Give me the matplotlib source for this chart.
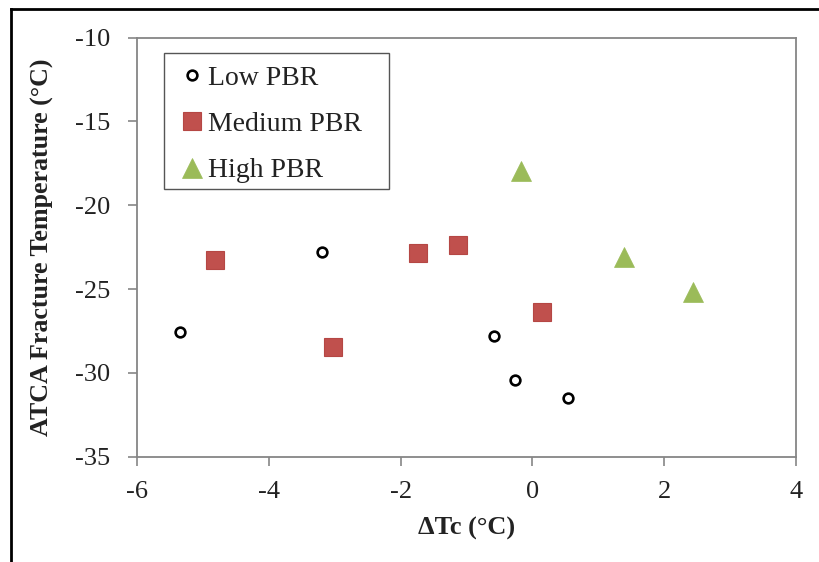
import matplotlib
matplotlib.use("Agg")
import matplotlib.pyplot as plt
from matplotlib.lines import Line2D
from matplotlib.patches import Rectangle

# Data
low_x = [-5.34, -3.19, -0.59, -0.26, 0.54]
low_y = [-27.55, -22.8, -27.8, -30.45, -31.5]
med_x = [-4.82, -3.03, -1.74, -1.13, 0.14]
med_y = [-23.25, -28.45, -22.85, -22.35, -26.35]
high_x = [-0.17, 1.39, 2.44]
high_y = [-17.95, -23.1, -25.2]
series_names = ["Low PBR", "Medium PBR", "High PBR"]
x_ticks = [-6, -4, -2, 0, 2, 4]
y_ticks = [-35, -30, -25, -20, -15, -10]

plt.rcParams['font.family'] = ['Liberation Serif', 'DejaVu Serif']

fig = plt.figure(figsize=(8.2, 5.62), dpi=100)
ax = fig.add_axes([137/820, 1 - 456.7/562, (796 - 137)/820, (456.7 - 37.7)/562])

red = "#C0504D"
green = "#9BBB59"

ax.plot(low_x, low_y, linestyle='none', marker='o', markersize=7, markerfacecolor='white',
        markeredgecolor='black', markeredgewidth=1.9, label=series_names[0], zorder=3)
ax.plot(med_x, med_y, linestyle='none', marker='s', markersize=13, markerfacecolor=red,
        markeredgecolor='#B54744', markeredgewidth=0.8, label=series_names[1], zorder=3)
ax.plot(high_x, high_y, linestyle='none', marker='^', markersize=14, markerfacecolor=green,
        markeredgecolor=green, markeredgewidth=0.5, label=series_names[2], zorder=3)

ax.set_xlim(-6, 4)
ax.set_ylim(-35, -10)
ax.set_xticks(x_ticks)
ax.set_yticks(y_ticks)
ax.set_xticklabels([str(t) for t in x_ticks])
ax.set_yticklabels([str(t) for t in y_ticks])

for s in ax.spines.values():
    s.set_color('#868686')
    s.set_linewidth(1.3)

ax.tick_params(axis='both', direction='out', length=6.5, width=1.2, color='#868686',
               labelsize=19, labelcolor='#222222')
ax.tick_params(axis='y', pad=13)
ax.tick_params(axis='x', pad=11)

ax.set_xlabel("ΔTc (°C)", fontsize=19, fontweight='bold', labelpad=10, color='#222222')
ax.set_ylabel("ATCA Fracture Temperature (°C)", fontsize=18.7, fontweight='bold',
              labelpad=15, color='#222222')

# legend frame drawn separately
ax.add_patch(Rectangle(((164 - 137)/659, (456.7 - 189)/419), (389 - 164)/659, (189 - 52.7)/419,
                       transform=ax.transAxes, facecolor='white', edgecolor='#555555',
                       linewidth=1.0, zorder=4))
leg = ax.legend(loc='upper left', bbox_to_anchor=((164 - 137)/659, 1 - (46 - 37.7)/419),
                prop={'size': 20}, frameon=False,
                handlelength=0.65, handletextpad=0.25, labelspacing=0.75, borderpad=0.7,
                borderaxespad=0, numpoints=1)
leg.set_zorder(5)
for t in leg.get_texts():
    t.set_color('#222222')

# outer frame lines (top and left)
fig.add_artist(Line2D([11/820, 1], [1 - 9/562, 1 - 9/562], color='black', linewidth=2,
                      transform=fig.transFigure))
fig.add_artist(Line2D([11/820, 11/820], [0, 1 - 9/562], color='black', linewidth=2,
                      transform=fig.transFigure))

fig.savefig("out.png", dpi=100)
